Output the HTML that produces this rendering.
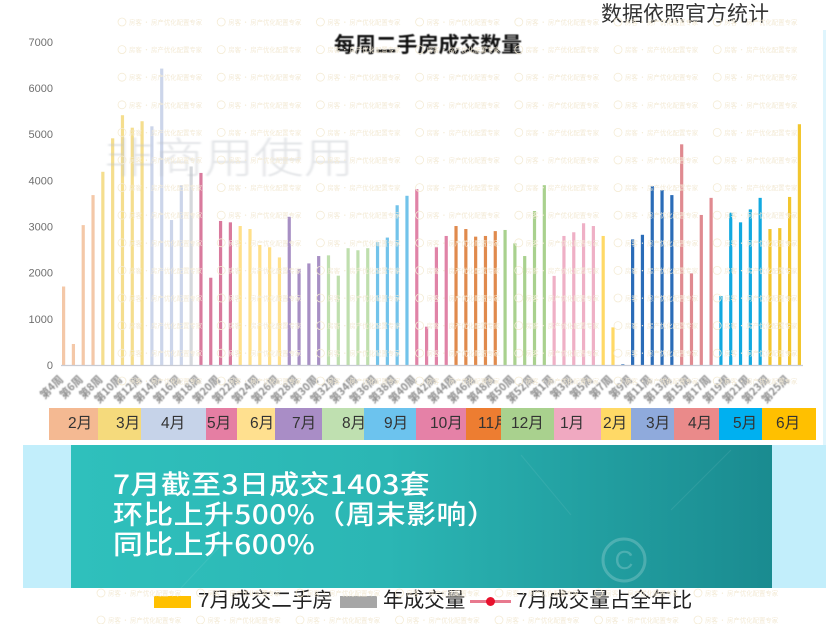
<!DOCTYPE html>
<html lang="zh">
<head>
<meta charset="utf-8">
<title>每周二手房成交数量</title>
<style>
html,body{margin:0;padding:0;background:#fff;}
#page{position:relative;width:826px;height:624px;overflow:hidden;background:#fff;font-family:"Liberation Sans","Noto Sans CJK SC",sans-serif;}
#chart{position:absolute;left:0;top:0;}
.abs{position:absolute;white-space:nowrap;}
.mon{position:absolute;top:408px;height:32px;overflow:hidden;font-size:15.5px;line-height:32px;color:#333;filter:blur(.3px);}
.mon span{position:absolute;top:0;white-space:nowrap;}
.sw{position:absolute;}
.lg{position:absolute;top:588px;font-size:20.6px;line-height:26px;color:#222;white-space:nowrap;filter:blur(.3px);}
</style>
</head>
<body>
<div id="page">
<svg id="chart" width="826" height="445" viewBox="0 0 826 445"></svg>

<div class="abs" style="left:823px;top:30px;width:3px;height:415px;background:#dff5fd"></div>

<div class="abs" style="left:334px;top:30px;font:700 20.9px/28px 'Noto Sans CJK SC',sans-serif;color:#111;filter:blur(.4px)">每周二手房成交数量</div>
<div class="abs" style="left:601px;top:-2px;font:400 21px/30px 'Noto Sans CJK SC',sans-serif;color:#333;filter:blur(.3px)">数据依照官方统计</div>
<div class="abs" style="left:104px;top:120px;font:300 50px/70px 'Noto Sans CJK SC',sans-serif;color:rgba(190,196,202,.45);filter:blur(1px);transform:scaleY(.85);transform-origin:0 50%">非商用使用</div>

<div class="mon" style="left:49px;width:49px;background:#f4b992"><span style="left:19px">2月</span></div>
<div class="mon" style="left:98px;width:43px;background:#f5da7c"><span style="left:18px">3月</span></div>
<div class="mon" style="left:141px;width:65px;background:#c6d3e9"><span style="left:20px">4月</span></div>
<div class="mon" style="left:206px;width:31px;background:#e57ea3"><span style="left:1px">5月</span></div>
<div class="mon" style="left:237px;width:38px;background:#ffe08f"><span style="left:13px">6月</span></div>
<div class="mon" style="left:275px;width:47px;background:#a98dc6"><span style="left:17px">7月</span></div>
<div class="mon" style="left:322px;width:42px;background:#bfe0b0"><span style="left:20px">8月</span></div>
<div class="mon" style="left:364px;width:52px;background:#6cc3ee"><span style="left:20px">9月</span></div>
<div class="mon" style="left:416px;width:50px;background:#e581a7"><span style="left:14px">10月</span></div>
<div class="mon" style="left:466px;width:35px;background:#ed7d31"><span style="left:12px">11月</span></div>
<div class="mon" style="left:501px;width:53px;background:#a9d18e"><span style="left:10px">12月</span></div>
<div class="mon" style="left:554px;width:47px;background:#f0a9c1"><span style="left:6px">1月</span></div>
<div class="mon" style="left:601px;width:30px;background:#ffd966"><span style="left:2px">2月</span></div>
<div class="mon" style="left:631px;width:43px;background:#8faadc"><span style="left:15px">3月</span></div>
<div class="mon" style="left:674px;width:45px;background:#ea8a8a"><span style="left:14px">4月</span></div>
<div class="mon" style="left:719px;width:43px;background:#00b0f0"><span style="left:14px">5月</span></div>
<div class="mon" style="left:762px;width:54px;background:#ffc000"><span style="left:14px">6月</span></div>

<div class="abs" style="left:23px;top:445px;width:803px;height:143px;background:#c2eefb"></div>
<div class="abs" style="left:71px;top:445px;width:701px;height:143px;background:linear-gradient(90deg,#2fc0bc 0%,#2bb6b4 45%,#1a8b90 100%);overflow:hidden">
  <svg width="701" height="143" style="position:absolute;left:0;top:0">
    <line x1="450" y1="10" x2="500" y2="70" stroke="rgba(255,255,255,.07)"/>
    <line x1="660" y1="5" x2="600" y2="65" stroke="rgba(255,255,255,.08)"/>
    <line x1="150" y1="100" x2="110" y2="143" stroke="rgba(255,255,255,.07)"/>
    <circle cx="553" cy="115" r="21" fill="none" stroke="rgba(255,255,255,.2)" stroke-width="3"/>
    <text x="553" y="124" text-anchor="middle" font-size="26" fill="rgba(255,255,255,.2)" font-family="Liberation Sans, sans-serif">C</text>
  </svg>
  <div class="abs" style="left:42px;top:23px;font:500 26.5px/30px 'Noto Sans CJK SC',sans-serif;letter-spacing:.45px;color:#fff;filter:blur(.3px);transform:scaleX(1.125);transform-origin:0 0">7月截至3日成交1403套<br>环比上升500%（周末影响）<br>同比上升600%</div>
</div>

<div class="sw" style="left:154px;top:596px;width:37px;height:12px;background:#ffc000"></div>
<div class="lg" style="left:198px">7月成交二手房</div>
<div class="sw" style="left:340px;top:596px;width:37px;height:12px;background:#a6a6a6"></div>
<div class="lg" style="left:383px">年成交量</div>
<div class="sw" style="left:470px;top:600px;width:41px;height:3px;background:#e8798e"></div>
<div class="sw" style="left:486px;top:597px;width:9px;height:9px;border-radius:50%;background:#e8112d"></div>
<div class="lg" style="left:516px">7月成交量占全年比</div>

<svg id="marks" class="abs" style="left:0;top:0;pointer-events:none" width="826" height="624"></svg>
</div>

<script>
var weeks = [4,5,6,7,8,9,10,11,12,13,14,15,16,17,18,19,20,21,22,23,24,25,26,27,28,29,30,31,32,33,34,35,36,37,38,39,40,41,42,43,44,45,46,47,48,49,50,51,52,53,1,2,3,4,5,6,7,8,9,10,11,12,13,14,15,16,17,18,19,20,21,22,23,24,25,26];
var weeklySales = [1700,455,3030,3680,4185,4910,5410,5140,5280,5170,6420,3140,3895,4300,4160,1890,3120,3090,3010,2945,2600,2550,2330,3210,2080,2200,2360,2375,1935,2530,2485,2530,2660,2760,3460,3665,3810,830,2550,2795,3010,2945,2780,2795,2900,2925,2635,2360,3335,3895,1930,2795,2875,3070,3010,2795,815,15,2720,2820,3875,3790,3680,4780,1985,3250,3620,1495,3300,3090,3370,3620,2945,2965,3640,5215];
var yTicks = [0,1000,2000,3000,4000,5000,6000,7000];
var xLabelEvery = 2;
var barGroups = [4,5,4,1,4,5,4,5,4,4,5,5,5,2,6,4,5,4];
var groupPalette = ["#f4c8a8","#f5de8e","#ccd5ea","#d5d8dc","#d97a9d","#ffe08a","#a78fc4","#bfdfae","#72c3ea","#e083a7","#e08a4d","#a9d18e","#efb0c6","#ffd966","#2a6cb8","#e08a90","#12a9e0","#f2c62e"];

var svgNS = "http://www.w3.org/2000/svg";
var chart = document.getElementById("chart");
function yScale(v){ return 365 - v * 0.04617; }
function xScale(i){ return 63.6 + i * (799.4 - 63.6) / (weeks.length - 1); }
function make(tag, attrs, parent){
  var el = document.createElementNS(svgNS, tag);
  for (var k in attrs) el.setAttribute(k, attrs[k]);
  parent.appendChild(el);
  return el;
}
function colorFor(i){
  var acc = 0;
  for (var g = 0; g < barGroups.length; g++){
    acc += barGroups[g];
    if (i < acc) return groupPalette[g];
  }
  return groupPalette[groupPalette.length - 1];
}

/* y axis labels */
yTicks.forEach(function(t){
  var el = make("text", {x:53, y:yScale(t)+4, "text-anchor":"end", "font-size":"11", fill:"#6f6f6f", "font-family":"Liberation Sans, sans-serif"}, chart);
  
  
  el.textContent = t;
});

/* bars */
weeklySales.forEach(function(v, i){
  var h = yScale(0) - yScale(v);
  var el = make("rect", {x:xScale(i)-1.6, y:yScale(v), width:3.2, height:h, fill:colorFor(i), style:"filter:blur(.25px)"}, chart);
  
  
});

/* axis line */
var axis = make("line", {x1:61, x2:803, y1:yScale(0)+.5, y2:yScale(0)+.5, stroke:"#c9ccd4", "stroke-width":1.2}, chart);



/* x labels */
weeks.forEach(function(w, i){
  if (i % xLabelEvery !== 0) return;
  var px = xScale(i), py = 380;
  var el = make("text", {x:px, y:py, "text-anchor":"end", "font-size":"10.5", "font-weight":"700", fill:"#8c8c8c", "font-family":"Noto Sans CJK SC, sans-serif", transform:"rotate(-45 "+px+" "+py+")", style:"filter:blur(.5px)"}, chart);
  
  
  el.textContent = "第" + w + "周";
});

/* faint repeated site watermark */
var marks = document.getElementById("marks");
function stamp(x, y){
  var c = make("circle", {cx:x+4, cy:y, r:4, fill:"none", stroke:"#f4ebd4", "stroke-width":.8}, marks);
  
  
  var t = make("text", {x:x+11, y:y+2.5, "font-size":"6.4", fill:"#f3ead5", "font-family":"Noto Sans CJK SC, sans-serif", style:"filter:blur(.2px)"}, marks);
  
  
  t.textContent = "房客 · 房产优化配置专家";
}
for (var r = 0; r < 13; r++){
  for (var c = 0; c < 7; c++){
    stamp(118 + c * 99.2, 22 + r * 27.6);
  }
}
for (var c2 = 0; c2 < 7; c2++){
  stamp(118 + c2 * 99.2, 381);
  stamp(97 + c2 * 99.5, 593);
  stamp(97 + c2 * 99.5, 620);
}
</script>
</body>
</html>
